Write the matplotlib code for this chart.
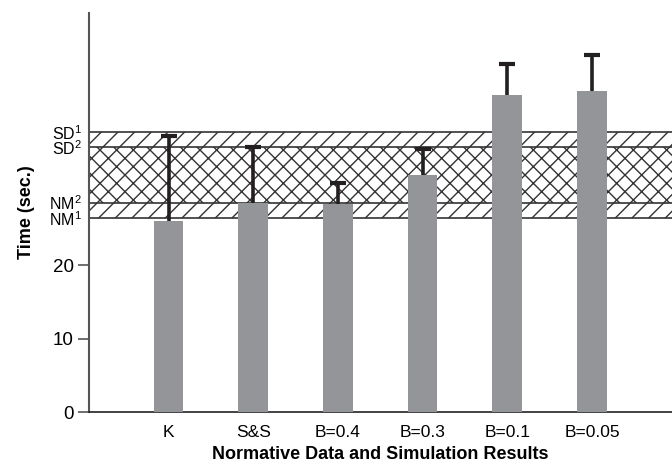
import numpy as np
import matplotlib.pyplot as plt

plt.rcParams['font.family'] = ['Liberation Sans', 'DejaVu Sans']
plt.rcParams['mathtext.fontset'] = 'custom'
plt.rcParams['mathtext.rm'] = 'Liberation Sans'
plt.rcParams['mathtext.it'] = 'Liberation Sans'
plt.rcParams['hatch.linewidth'] = 1.0

# data
labels = ['K', 'S&S', 'B=0.4', 'B=0.3', 'B=0.1', 'B=0.05']
means = [26.1, 28.55, 28.4, 32.3, 43.2, 43.8]
err_up = [11.5, 7.6, 2.8, 3.5, 4.2, 4.9]

# normative limits
norm_names = ['NM$^{\\rm 1}$', 'NM$^{\\rm 2}$', 'SD$^{\\rm 2}$', 'SD$^{\\rm 1}$']
norm_vals = [26.4, 28.55, 36.1, 38.2]

bar_col = '#939598'
line_col = '#333333'

fig = plt.figure(figsize=(6.72, 4.69), dpi=100)
ax = fig.add_axes([0.1324, 0.1215, 0.8676, 0.8508])

x = np.arange(1, len(labels) + 1)

nm1, nm2, sd2, sd1 = norm_vals
# outer band (single hatch), inner band (cross hatch)
ax.axhspan(nm1, nm2, facecolor='white', edgecolor=line_col, hatch='//', lw=0, zorder=1)
ax.axhspan(sd2, sd1, facecolor='white', edgecolor=line_col, hatch='//', lw=0, zorder=1)
ax.axhspan(nm2, sd2, facecolor='white', edgecolor=line_col, hatch='xx', lw=0, zorder=1)
for v in norm_vals:
    ax.axhline(v, color=line_col, lw=1.2, zorder=2)

ax.bar(x, means, width=0.35, color=bar_col, zorder=3)
# upper error bars only
tops = np.array(means) + np.array(err_up)
ax.vlines(x, means, tops, color='#231f20', lw=2.6, zorder=4)
ax.plot(x, tops, ls='none', marker='_', ms=11, mew=3, color='#231f20', zorder=4)

ax.set_xlim(0.06, 6.945)
ax.set_ylim(0, 54.4)

ax.set_xticks(x)
ax.set_xticklabels(labels, fontsize=12.5)
ax.tick_params(axis='x', length=0, pad=9)

ax.set_yticks([0, 10, 20])
ax.set_yticklabels(['0', '10', '20'], fontsize=13.5)
ax.tick_params(axis='y', which='major', length=8, width=1.2, color='#555555', pad=3)
ax.set_yticks(norm_vals, norm_names, minor=True, fontsize=11.5)
ax.tick_params(axis='y', which='minor', length=0, pad=5)

for s in ['top', 'right']:
    ax.spines[s].set_visible(False)
ax.spines['left'].set_color('#555555')
ax.spines['left'].set_linewidth(1.5)
ax.spines['bottom'].set_color('#222222')
ax.spines['bottom'].set_linewidth(1.2)

ax.set_ylabel('Time (sec.)', fontsize=13, fontweight='bold', labelpad=10)
ax.set_xlabel('Normative Data and Simulation Results', fontsize=13,
              fontweight='bold', labelpad=5)

fig.savefig('out.png', dpi=100)
